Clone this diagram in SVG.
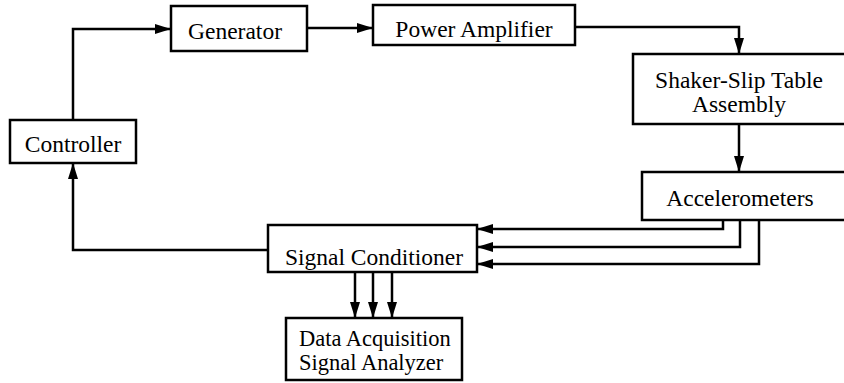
<svg xmlns="http://www.w3.org/2000/svg" width="844" height="383" viewBox="0 0 844 383">
<style>
.box{fill:#fff;stroke:#000;stroke-width:2.5}
.t{font-family:"Liberation Serif","Times New Roman",serif;font-size:23.5px;fill:#000}
.s{font-size:22.5px}
.c{text-anchor:middle}
.ln{fill:none;stroke:#000;stroke-width:2.5;marker-end:url(#ah)}
</style>
<defs>
<marker id="ah" markerUnits="userSpaceOnUse" markerWidth="18" markerHeight="12" refX="16" refY="5" orient="auto">
<path d="M0,0 L16,5 L0,10 z" fill="#000"/>
</marker>
</defs>
<rect width="844" height="383" fill="#fff"/>
<g id="connectors">
<path class="ln" d="M73,120 V29 H171"/>
<path class="ln" d="M307,28 H373"/>
<path class="ln" d="M575,27 H739 V54"/>
<path class="ln" d="M739,124 V172"/>
<path class="ln" d="M723,220 V229 H477"/>
<path class="ln" d="M740,220 V247 H477"/>
<path class="ln" d="M759,220 V264 H477"/>
<path class="ln" d="M268,250 H73 V163"/>
<path class="ln" d="M355,272 V318"/>
<path class="ln" d="M373,272 V318"/>
<path class="ln" d="M392,272 V318"/>
</g>
<g id="controller">
<rect class="box" x="10" y="120" width="126" height="43"/>
<text class="t c" x="73" y="152">Controller</text>
</g>
<g id="generator">
<rect class="box" x="171" y="6" width="136" height="45"/>
<text class="t c" x="235" y="39">Generator</text>
</g>
<g id="power-amplifier">
<rect class="box" x="373" y="5" width="202" height="40"/>
<text class="t c" x="474" y="37">Power Amplifier</text>
</g>
<g id="shaker">
<rect class="box" x="633" y="54" width="220" height="70"/>
<text class="t c" x="739" y="88">Shaker-Slip Table</text>
<text class="t c" x="739" y="112">Assembly</text>
</g>
<g id="accelerometers">
<rect class="box" x="642" y="172" width="210" height="48"/>
<text class="t c" x="740" y="206">Accelerometers</text>
</g>
<g id="signal-conditioner">
<rect class="box" x="268" y="225" width="209" height="47"/>
<text class="t c" x="374" y="265">Signal Conditioner</text>
</g>
<g id="data-acquisition">
<rect class="box" x="286" y="318" width="176" height="62"/>
<text class="t s" x="299" y="346">Data Acquisition</text>
<text class="t s" x="299" y="370">Signal Analyzer</text>
</g>
</svg>
